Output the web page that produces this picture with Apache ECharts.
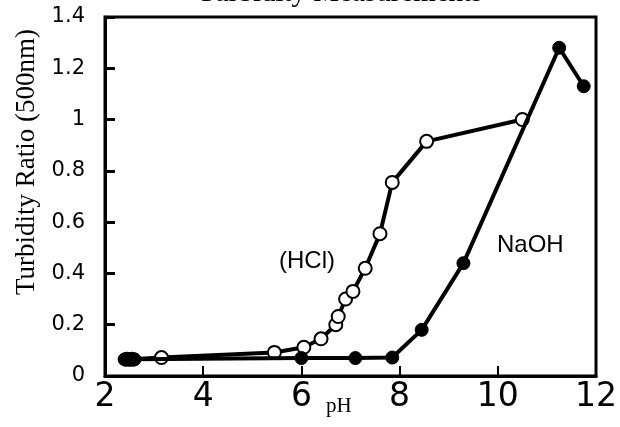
<!DOCTYPE html>
<html>
<head>
<meta charset="utf-8">
<script src="https://cdn.jsdelivr.net/npm/echarts@6/dist/echarts.min.js"></script>
<style>
  html, body { margin: 0; padding: 0; background: #fff; }
  #chart { width: 620px; height: 427px; }
</style>
</head>
<body>
<div id="chart"></div>
<script>
// turbidity vs pH
let hclPH = [2.45, 2.55, 3.15, 5.45, 6.05, 6.4, 6.7, 6.75, 6.9, 7.05, 7.3, 7.6, 7.85, 8.55, 10.5];
let hclVal = [0.065, 0.065, 0.072, 0.092, 0.112, 0.145, 0.2, 0.232, 0.3, 0.33, 0.42, 0.555, 0.755, 0.915, 1.0];
let naohPH = [2.4, 2.5, 2.6, 6.0, 7.1, 7.85, 8.45, 9.3, 11.25, 11.75];
let naohVal = [0.065, 0.065, 0.065, 0.07, 0.07, 0.072, 0.18, 0.44, 1.28, 1.13];

let chart = echarts.init(document.getElementById("chart"));

let option = {
  backgroundColor: "#fff",
  animation: false,
  title: {
    text: "Turbidity Measurements",
    left: 335,
    textAlign: "center",
    top: -26,
    textStyle: {
      fontFamily: "Liberation Serif",
      fontSize: 29,
      fontWeight: "normal",
      color: "#000",
    },
  },
  grid: {
    left: 105,
    right: 22,
    top: 17,
    bottom: 51,
    show: true,
    borderColor: "#000",
    borderWidth: 3,
  },
  xAxis: {
    type: "value",
    min: 2,
    max: 12,
    interval: 2,
    splitLine: { show: false },
    axisLine: { lineStyle: { color: "#000", width: 3 } },
    axisTick: { inside: true, length: 10, lineStyle: { color: "#000", width: 2 } },
    axisLabel: {
      color: "#000",
      fontFamily: "DejaVu Sans",
      fontSize: 33,
      margin: 5,
    },
  },
  yAxis: {
    type: "value",
    min: 0,
    max: 1.4,
    interval: 0.2,
    splitLine: { show: false },
    axisLine: { lineStyle: { color: "#000", width: 3 } },
    axisTick: { inside: true, length: 10, lineStyle: { color: "#000", width: 3 } },
    axisLabel: {
      color: "#000",
      fontFamily: "DejaVu Sans",
      fontSize: 21,
      margin: 20,
    },
  },
  graphic: [
    {
      type: "text",
      x: 27,
      y: 162,
      rotation: Math.PI / 2,
      style: {
        text: "Turbidity Ratio (500nm)",
        font: "27px 'Liberation Serif'",
        fill: "#000",
        align: "center",
        verticalAlign: "middle",
      },
    },
    {
      type: "text",
      left: 326,
      top: 396,
      style: { text: "pH", font: "21px 'Liberation Serif'", fill: "#000" },
    },
    {
      type: "text",
      left: 279,
      top: 249,
      style: { text: "(HCl)", font: "24px 'Liberation Sans'", fill: "#000" },
    },
    {
      type: "text",
      left: 497,
      top: 233,
      style: { text: "NaOH", font: "24px 'Liberation Sans'", fill: "#000" },
    },
  ],
  series: [
    {
      name: "HCl",
      type: "line",
      data: hclPH.map((x, i) => [x, hclVal[i]]),
      symbol: "circle",
      symbolSize: 13,
      lineStyle: { color: "#000", width: 4 },
      itemStyle: { color: "#fff", borderColor: "#000", borderWidth: 2 },
      z: 2,
    },
    {
      name: "NaOH",
      type: "line",
      data: naohPH.map((x, i) => [x, naohVal[i]]),
      symbol: "circle",
      symbolSize: 13,
      lineStyle: { color: "#000", width: 4 },
      itemStyle: { color: "#000", borderColor: "#000", borderWidth: 1 },
      z: 3,
    },
  ],
};

chart.setOption(option);
</script>
</body>
</html>
